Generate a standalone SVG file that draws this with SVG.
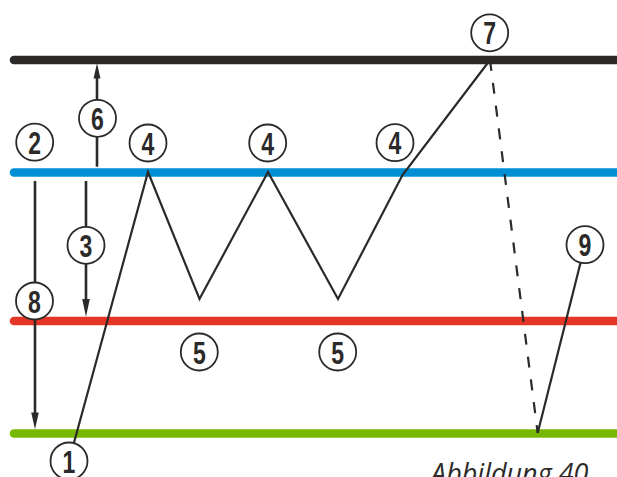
<svg xmlns="http://www.w3.org/2000/svg" width="617" height="477" viewBox="0 0 617 477">
<defs>
<style>
.lvl{fill:none;stroke-width:8.6;stroke-linecap:round}
.ln{fill:none;stroke:#2b2a29;stroke-width:2.2;stroke-linejoin:miter}
.ar{fill:none;stroke:#2b2a29;stroke-width:2.6}
.ah{fill:#2b2a29}
.c{fill:#fff;stroke:#2b2a29;stroke-width:1.8}
.t{font-family:"Liberation Sans",Arial,sans-serif;font-weight:bold;font-size:32px;fill:#2b2a29;text-anchor:middle}
.cap{font-family:"Open Sans","Liberation Sans",sans-serif;font-style:italic;font-size:27px;fill:#2b2a29}
</style>
</defs>
<rect width="617" height="477" fill="#fff"/>
<g id="levels">
<line class="lvl" x1="14" y1="60" x2="630" y2="60" stroke="#2b2a29"/>
<line class="lvl" x1="14" y1="172.5" x2="630" y2="172.5" stroke="#008fd5"/>
<line class="lvl" x1="14" y1="321" x2="630" y2="321" stroke="#e53527"/>
<line class="lvl" x1="14" y1="433.5" x2="630" y2="433.5" stroke="#77b900"/>
</g>
<g id="connectors">
<polyline class="ln" points="69,461 148,172 199.5,299 268,172 338,299 402.5,175 490,60"/>
<line class="ln" x1="490" y1="60" x2="537.7" y2="433" stroke-dasharray="11 12"/>
<line class="ln" x1="537.7" y1="433" x2="585" y2="245"/>
<line class="ar" x1="97" y1="166.7" x2="97" y2="75"/>
<polygon class="ah" points="97,63.3 93.5,78.5 100.5,78.5"/>
<line class="ar" x1="86" y1="181" x2="86" y2="302"/>
<polygon class="ah" points="86,316.7 82.2,299 89.8,299"/>
<line class="ar" x1="35" y1="181" x2="35" y2="415"/>
<polygon class="ah" points="35,429.3 31.2,412.5 38.8,412.5"/>
</g>
<g id="n1"><circle class="c" cx="69" cy="461" r="18.5"/><text class="t" transform="translate(69 461) scale(0.72 1)" y="11.5">1</text></g>
<g id="n2"><circle class="c" cx="34.7" cy="142.2" r="18.5"/><text class="t" transform="translate(34.7 142.2) scale(0.72 1)" y="11.5">2</text></g>
<g id="n3"><circle class="c" cx="86" cy="245.3" r="18.5"/><text class="t" transform="translate(86 245.3) scale(0.72 1)" y="11.5">3</text></g>
<g id="n4a"><circle class="c" cx="148" cy="143" r="18.5"/><text class="t" transform="translate(148 143) scale(0.72 1)" y="11.5">4</text></g>
<g id="n4b"><circle class="c" cx="267.7" cy="143" r="18.5"/><text class="t" transform="translate(267.7 143) scale(0.72 1)" y="11.5">4</text></g>
<g id="n4c"><circle class="c" cx="395" cy="142.7" r="18.5"/><text class="t" transform="translate(395 142.7) scale(0.72 1)" y="11.5">4</text></g>
<g id="n5a"><circle class="c" cx="199.3" cy="352" r="18.5"/><text class="t" transform="translate(199.3 352) scale(0.72 1)" y="11.5">5</text></g>
<g id="n5b"><circle class="c" cx="337.7" cy="352" r="18.5"/><text class="t" transform="translate(337.7 352) scale(0.72 1)" y="11.5">5</text></g>
<g id="n6"><circle class="c" cx="97.5" cy="118.3" r="18.5"/><text class="t" transform="translate(97.5 118.3) scale(0.72 1)" y="11.5">6</text></g>
<g id="n7"><circle class="c" cx="489.7" cy="32.8" r="18.5"/><text class="t" transform="translate(489.7 32.8) scale(0.72 1)" y="11.5">7</text></g>
<g id="n8"><circle class="c" cx="34.5" cy="301" r="18.5"/><text class="t" transform="translate(34.5 301) scale(0.72 1)" y="11.5">8</text></g>
<g id="n9"><circle class="c" cx="585" cy="244.7" r="18.5"/><text class="t" transform="translate(585 244.7) scale(0.72 1)" y="11.5">9</text></g>
<text class="cap" x="431" y="483">Abbildung 40</text>
</svg>
